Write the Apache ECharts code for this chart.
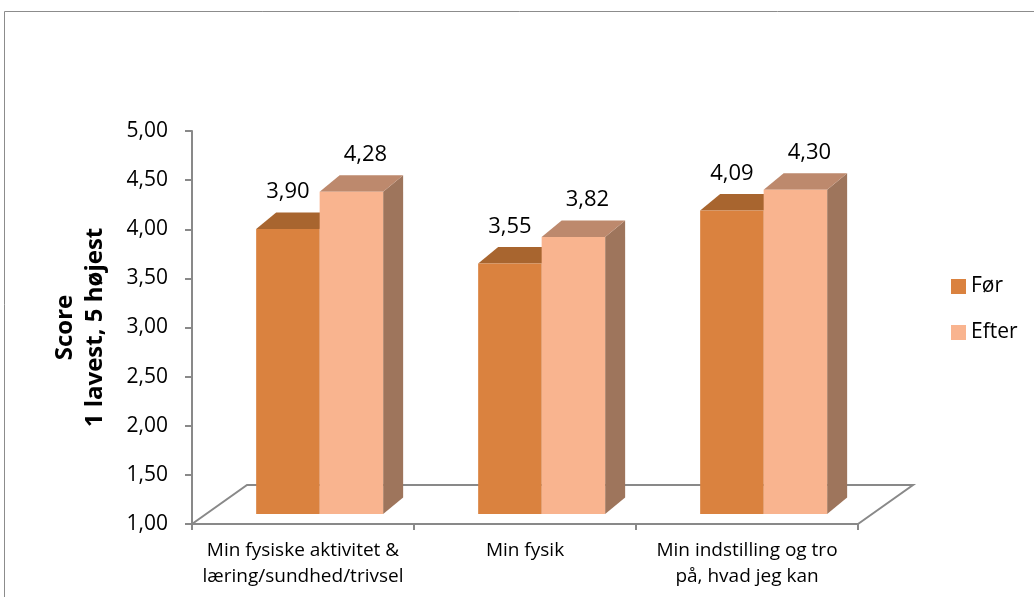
<!DOCTYPE html>
<html>
<head>
<meta charset="utf-8">
<script src="https://cdn.jsdelivr.net/npm/echarts@6/dist/echarts.min.js"></script>
<style>
  html, body { margin: 0; padding: 0; background: #fff; }
  #chart { width: 1034px; height: 597px; }
</style>
</head>
<body>
<div id="chart"></div>
<script>
// Survey scores, before and after
const categories = [
  'Min fysiske aktivitet &\nlæring/sundhed/trivsel',
  'Min fysik',
  'Min indstilling og tro\npå, hvad jeg kan'
];
const seriesNames = ['Før', 'Efter'];
const forValues = [3.90, 3.55, 4.09];
const efterValues = [4.28, 3.82, 4.30];
const yMin = 1;
const yMax = 5;
const yStep = 0.5;
const axisTitle = ['Score', '1 lavest, 5 højest'];

const FONT = '"Open Sans", "DejaVu Sans", sans-serif';
const AXIS_GREY = '#898989';

// face colours of the pseudo-3D columns
const faces = {
  'Før':   { front: '#DA823F', top: '#A8652F', side: '#9A5F33' },
  'Efter': { front: '#F9B48F', top: '#BD896D', side: '#9E755C' }
};

// depth of the floor and of each column, in pixels
const FLOOR_DX = 55, FLOOR_DY = -39;
const BAR_DX = 20, BAR_DY = -16.5;
const PLANE_DY = -10;          // columns stand a little behind the front edge
const GROUP_SHIFT = 0.075;     // fraction of a category band
const BAR_FRAC = 0.286;        // column width as fraction of a band
const LABEL_SHIFT = [0, 14];
const LABEL_RISE = 37;

const fmt = v => v.toFixed(2).replace('.', ',');

function columnSeries(name, values, slot) {
  return {
    type: 'custom',
    name: name,
    coordinateSystem: 'cartesian2d',
    itemStyle: { color: faces[name].front },
    encode: { x: 0, y: 1 },
    data: values.map((v, i) => [i, v]),
    z: 5,
    renderItem: function (params, api) {
      const cat = api.value(0);
      const v = api.value(1);
      const band = api.size([1, 0])[0];
      const topPt = api.coord([cat, v]);
      const basePt = api.coord([cat, yMin]);
      const w = band * BAR_FRAC;
      const groupCenter = topPt[0] + band * GROUP_SHIFT;
      const left = groupCenter - w + slot * w;
      const top = topPt[1] + PLANE_DY;
      const bottom = basePt[1] + PLANE_DY;
      const f = faces[name];
      return {
        type: 'group',
        children: [
          { type: 'polygon',
            shape: { points: [[left + w, top], [left + w + BAR_DX, top + BAR_DY],
                              [left + w + BAR_DX, bottom + BAR_DY], [left + w, bottom]] },
            style: { fill: f.side } },
          { type: 'polygon',
            shape: { points: [[left, top], [left + BAR_DX, top + BAR_DY],
                              [left + w + BAR_DX, top + BAR_DY], [left + w, top]] },
            style: { fill: f.top } },
          { type: 'rect',
            shape: { x: left, y: top, width: w, height: bottom - top },
            style: { fill: f.front } },
          { type: 'text',
            style: { text: fmt(v), x: left + w / 2 + LABEL_SHIFT[slot], y: top - LABEL_RISE,
                     align: 'center', verticalAlign: 'middle',
                     fontFamily: FONT, fontSize: 22, fill: '#000' } }
        ]
      };
    }
  };
}

// floor outline behind the columns
const floorSeries = {
  type: 'custom',
  name: 'floor',
  coordinateSystem: 'cartesian2d',
  silent: true,
  z: 1,
  encode: { x: 0, y: 1 },
  data: [[0, yMin]],
  renderItem: function (params) {
    const g = params.coordSys;
    const x0 = g.x, x1 = g.x + g.width, yb = g.y + g.height;
    return {
      type: 'polyline',
      shape: { points: [[x0, yb], [x0 + FLOOR_DX, yb + FLOOR_DY],
                        [x1 + FLOOR_DX, yb + FLOOR_DY], [x1, yb]] },
      style: { stroke: AXIS_GREY, lineWidth: 2, fill: null }
    };
  }
};

const chart = echarts.init(document.getElementById('chart'), null, { renderer: 'canvas' });
chart.setOption({
  animation: false,
  backgroundColor: '#fff',
  graphic: [{
    type: 'rect', silent: true, z: 0,
    shape: { x: 4.5, y: 11.5, width: 1200, height: 800 },
    style: { fill: null, stroke: '#8c8c8c', lineWidth: 1 }
  }],
  grid: { left: 192, right: 176, top: 131, bottom: 73, containLabel: false, outerBoundsMode: 'none' },
  legend: {
    orient: 'vertical',
    left: 946,
    top: 271,
    itemWidth: 15,
    itemHeight: 15,
    itemGap: 25,
    icon: 'rect',
    data: seriesNames,
    textStyle: { fontFamily: FONT, fontSize: 21, color: '#000', padding: [0, 0, 0, 0] }
  },
  xAxis: {
    type: 'category',
    data: categories,
    boundaryGap: true,
    axisLine: { show: true, lineStyle: { color: AXIS_GREY, width: 2 } },
    axisTick: { show: true, alignWithLabel: false, interval: 0, length: 6,
                lineStyle: { color: AXIS_GREY, width: 2 } },
    axisLabel: { interval: 0, margin: 14, color: '#000', fontFamily: FONT,
                 fontSize: 19, lineHeight: 26 },
    splitLine: { show: false }
  },
  yAxis: {
    type: 'value',
    min: yMin,
    max: yMax,
    interval: yStep,
    name: axisTitle.join('\n'),
    nameLocation: 'middle',
    nameRotate: 90,
    nameGap: 82,
    nameTextStyle: { fontFamily: FONT, fontSize: 24, fontWeight: 'bold', color: '#000',
                     lineHeight: 30, align: 'center' },
    axisLine: { show: true, lineStyle: { color: AXIS_GREY, width: 2 } },
    axisTick: { show: true, length: 7, lineStyle: { color: AXIS_GREY, width: 2 } },
    axisLabel: { margin: 24, color: '#000', fontFamily: FONT, fontSize: 21,
                 formatter: v => fmt(v) },
    splitLine: { show: false }
  },
  series: [
    floorSeries,
    columnSeries(seriesNames[0], forValues, 0),
    columnSeries(seriesNames[1], efterValues, 1)
  ]
});
</script>
</body>
</html>
